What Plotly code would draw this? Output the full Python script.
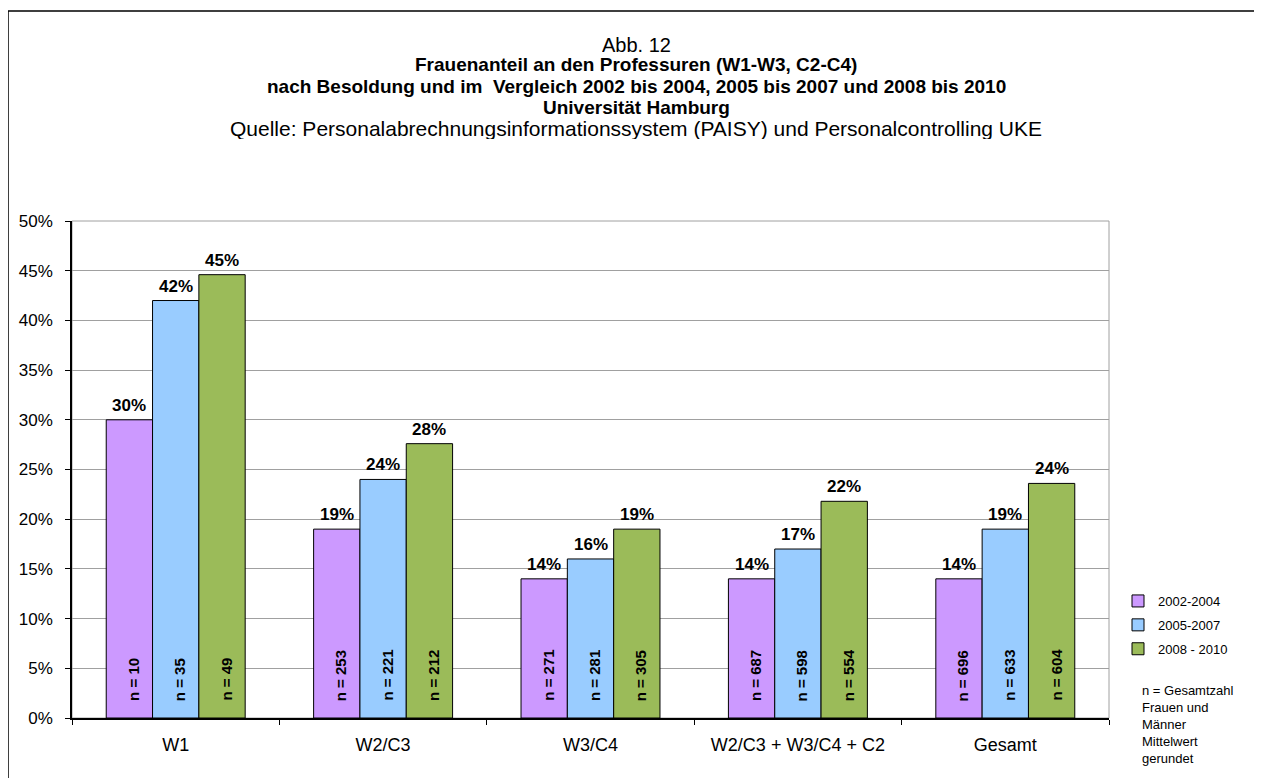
import plotly.graph_objects as go

categories = ["W1", "W2/C3", "W3/C4", "W2/C3 + W3/C4 + C2", "Gesamt"]
series_names = ["2002-2004", "2005-2007", "2008 - 2010"]
share_2002_2004 = [30.0, 19.0, 14.0, 14.0, 14.0]
share_2005_2007 = [42.0, 24.0, 16.0, 17.0, 19.0]
share_2008_2010 = [44.6, 27.6, 19.0, 21.8, 23.6]
n_2002_2004 = [10, 253, 271, 687, 696]
n_2005_2007 = [35, 221, 281, 598, 633]
n_2008_2010 = [49, 212, 305, 554, 604]
y_ticks = [0, 5, 10, 15, 20, 25, 30, 35, 40, 45, 50]
colors = ["#CC99FF", "#99CCFF", "#9BBB59"]

OFF = 8  # page body margin
W, H = 1262 - OFF, 778 - OFF
# plot area in page pixels
L, R, T, B = 72, 1109, 221, 718
FONT = "Liberation Sans, Arial, sans-serif"

def px(x):
    return (x - L) / (R - L)

def py(y):
    return (B - y) / (B - T)

shares = [share_2002_2004, share_2005_2007, share_2008_2010]
ns = [n_2002_2004, n_2005_2007, n_2008_2010]

bargap = 0.33
bw = (1 - bargap) / 3

fig = go.Figure()
for j in range(3):
    fig.add_trace(go.Bar(
        x=categories, y=shares[j], name=series_names[j],
        marker=dict(color=colors[j], line=dict(color="black", width=1)),
        legendgroup=f"g{j}", hoverinfo="skip",
    ))

annotations = []
for j in range(3):
    off = (j - 1) * bw
    for i, cat in enumerate(categories):
        annotations.append(dict(
            x=i + off, y=shares[j][i], xref="x", yref="y",
            text=f"<b>{round(shares[j][i]):.0f}%</b>", showarrow=False,
            yanchor="bottom", yshift=3,
            font=dict(family=FONT, size=17, color="black"),
        ))
        annotations.append(dict(
            x=i + off, y=0, xref="x", yref="y",
            text=f"<b>n = {ns[j][i]}</b>", showarrow=False, textangle=-90,
            yanchor="bottom", yshift=15, xshift=4,
            font=dict(family=FONT, size=15, color="black"),
        ))

title_lines = [
    ("Abb. 12", 44, False, 20),
    ("Frauenanteil an den Professuren (W1-W3, C2-C4)", 65, True, 19),
    ("nach Besoldung und im  Vergleich 2002 bis 2004, 2005 bis 2007 und 2008 bis 2010", 86, True, 19),
    ("Universität Hamburg", 107, True, 19),
    ("Quelle: Personalabrechnungsinformationssystem (PAISY) und Personalcontrolling UKE", 129, False, 21),
]
for txt, yy, bold, sz in title_lines:
    annotations.append(dict(
        x=px(636), y=py(yy), xref="paper", yref="paper",
        text=f"<b>{txt}</b>" if bold else txt, showarrow=False,
        xanchor="center", yanchor="middle", height=21,
        font=dict(family=FONT, size=sz, color="black"),
    ))

annotations.append(dict(
    x=px(1140), y=py(681), xref="paper", yref="paper",
    text="n = Gesamtzahl<br>Frauen und<br>Männer<br>Mittelwert<br>gerundet",
    showarrow=False, xanchor="left", yanchor="top", align="left",
    font=dict(family=FONT, size=13, color="black"),
))

shapes = [
    dict(type="rect", xref="paper", yref="paper", x0=0, x1=1, y0=0, y1=1,
         line=dict(color="#A0A0A0", width=1), layer="below"),
    dict(type="rect", xref="paper", yref="paper", x0=px(8), x1=px(1300), y0=py(820), y1=py(11),
         line=dict(color="black", width=1.5)),
]

fig.update_layout(
    width=W, height=H,
    margin=dict(l=L - OFF, r=W - (R - OFF), t=T - OFF, b=H - (B - OFF), pad=0),
    paper_bgcolor="white", plot_bgcolor="white",
    barmode="group", bargap=bargap, bargroupgap=0,
    font=dict(family=FONT, color="black"),
    showlegend=True,
    legend=dict(x=px(1118), y=py(586), xanchor="left", yanchor="top",
                font=dict(family=FONT, size=13, color="black"),
                traceorder="grouped", tracegroupgap=4, itemwidth=30,
                bgcolor="rgba(0,0,0,0)"),
    annotations=annotations, shapes=shapes,
    xaxis=dict(type="category", showgrid=False, showline=True, linecolor="black", linewidth=2,
               ticks="outside", tickson="boundaries", ticklen=5, tickcolor="black",
               tickfont=dict(family=FONT, size=18, color="black"), ticklabelstandoff=9),
    yaxis=dict(range=[0, 50], tickvals=y_ticks, ticktext=[f"{v}%" for v in y_ticks],
               showgrid=True, gridcolor="#A0A0A0", gridwidth=1, showline=True,
               linecolor="black", linewidth=1.5, ticks="outside", ticklen=5, tickcolor="black",
               tickfont=dict(family=FONT, size=17, color="black"), ticklabelstandoff=9,
               zeroline=False),
)

fig.write_html("out.html")
